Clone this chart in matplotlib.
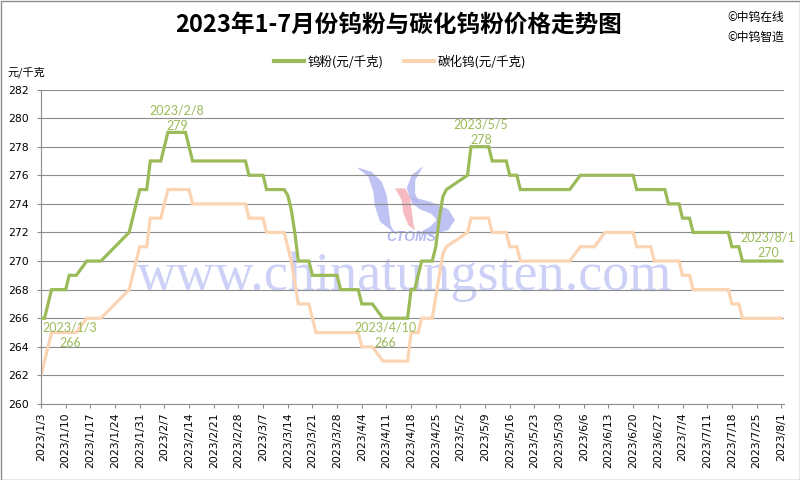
import matplotlib
matplotlib.use('Agg')
import matplotlib.pyplot as plt
from matplotlib.transforms import Affine2D
from matplotlib.patches import Polygon, Rectangle
from datetime import datetime, timedelta

# ---------------- data ----------------
title = '2023年1-7月份钨粉与碳化钨粉价格走势图'
series_w_name = '钨粉(元/千克)'
series_wc_name = '碳化钨(元/千克)'
y_unit = '元/千克'
copyright_lines = ['©中钨在线', '©中钨智造']
watermark = 'www.chinatungsten.com'
logo_text = 'CTOMS'

# tungsten powder (vertices of the price line)
w_dates = ['2023/1/3', '2023/1/4', '2023/1/6', '2023/1/10', '2023/1/11', '2023/1/13',
           '2023/1/16', '2023/1/20', '2023/1/28', '2023/1/31', '2023/2/2', '2023/2/3',
           '2023/2/6', '2023/2/8', '2023/2/13', '2023/2/15', '2023/3/2', '2023/3/3',
           '2023/3/7', '2023/3/8', '2023/3/13', '2023/3/14', '2023/3/15', '2023/3/16',
           '2023/3/17', '2023/3/20', '2023/3/21', '2023/3/28', '2023/3/29', '2023/4/3',
           '2023/4/4', '2023/4/7', '2023/4/10', '2023/4/17', '2023/4/18', '2023/4/19',
           '2023/4/21', '2023/4/24', '2023/4/25', '2023/4/26', '2023/4/27', '2023/4/28',
           '2023/5/4', '2023/5/5', '2023/5/10', '2023/5/11', '2023/5/15', '2023/5/16',
           '2023/5/18', '2023/5/19', '2023/6/2', '2023/6/5', '2023/6/20', '2023/6/21',
           '2023/6/29', '2023/6/30', '2023/7/3', '2023/7/4', '2023/7/6', '2023/7/7',
           '2023/7/17', '2023/7/18', '2023/7/20', '2023/7/21', '2023/8/1']
w_values = [266, 266, 268, 268, 269, 269,
            270, 270, 272, 275, 275, 277,
            277, 279, 279, 277, 277, 276,
            276, 275, 275, 274.6, 273.6, 272,
            270, 270, 269, 269, 268, 268,
            267, 267, 266, 266, 268, 268,
            270, 270, 271, 273, 274.5, 275,
            276, 278, 278, 277, 277, 276,
            276, 275, 275, 276, 276, 275,
            275, 274, 274, 273, 273, 272,
            272, 271, 271, 270, 270]

# tungsten carbide (vertices of the price line)
wc_dates = ['2023/1/3', '2023/1/6', '2023/1/13', '2023/1/16', '2023/1/20', '2023/1/28',
            '2023/1/31', '2023/2/2', '2023/2/3', '2023/2/6', '2023/2/8', '2023/2/14',
            '2023/2/15', '2023/3/2', '2023/3/3', '2023/3/7', '2023/3/8', '2023/3/13',
            '2023/3/14', '2023/3/15', '2023/3/16', '2023/3/17', '2023/3/20', '2023/3/22',
            '2023/4/3', '2023/4/4', '2023/4/7', '2023/4/10', '2023/4/17', '2023/4/18',
            '2023/4/20', '2023/4/21', '2023/4/24', '2023/4/27', '2023/4/28', '2023/5/4',
            '2023/5/5', '2023/5/10', '2023/5/11', '2023/5/15', '2023/5/16', '2023/5/18',
            '2023/5/19', '2023/6/2', '2023/6/5', '2023/6/9', '2023/6/12', '2023/6/20',
            '2023/6/21', '2023/6/25', '2023/6/26', '2023/7/3', '2023/7/4', '2023/7/6',
            '2023/7/7', '2023/7/17', '2023/7/18', '2023/7/20', '2023/7/21', '2023/8/1']
wc_values = [262, 265, 265, 266, 266, 268,
             271, 271, 273, 273, 275, 275,
             274, 274, 273, 273, 272, 272,
             271, 270, 268.5, 267, 267, 265,
             265, 264, 264, 263, 263, 265,
             265, 266, 266, 270.5, 271, 272,
             273, 273, 272, 272, 271, 271,
             270, 270, 271, 271, 272, 272,
             271, 271, 270, 270, 269, 269,
             268, 268, 267, 267, 266, 266]

# labelled points on the tungsten powder line
label_dates = ['2023/1/3', '2023/2/8', '2023/4/10', '2023/5/5', '2023/8/1']

tick_labels = ['2023/1/3', '2023/1/10', '2023/1/17', '2023/1/24', '2023/1/31', '2023/2/7',
               '2023/2/14', '2023/2/21', '2023/2/28', '2023/3/7', '2023/3/14', '2023/3/21',
               '2023/3/28', '2023/4/4', '2023/4/11', '2023/4/18', '2023/4/25', '2023/5/2',
               '2023/5/9', '2023/5/16', '2023/5/23', '2023/5/30', '2023/6/6', '2023/6/13',
               '2023/6/20', '2023/6/27', '2023/7/4', '2023/7/11', '2023/7/18', '2023/7/25',
               '2023/8/1']
y_ticks = [260, 262, 264, 266, 268, 270, 272, 274, 276, 278, 280, 282]

# ---------------- style ----------------
GREEN = '#9BBB59'
ORANGE = '#FBD4B4'
GRID = '#8C8C8C'
LOGO_BLUE = '#B3B9F1'
LOGO_RED = '#F4B0B5'
CJK = ['Noto Sans CJK SC', 'DejaVu Sans']


def to_dt(s):
    return datetime.strptime(s, '%Y/%m/%d')


W, H = 800, 480
fig = plt.figure(figsize=(8, 4.8), dpi=100)
fig.patch.set_facecolor('white')
px = Affine2D().scale(1 / 100, -1 / 100).translate(0, H / 100) + fig.dpi_scale_trans

ax = fig.add_axes([41 / W, 1 - 404 / H, (784 - 41) / W, (404 - 89.5) / H])
ax.set_facecolor('none')

wd = [to_dt(s) for s in w_dates]
cd = [to_dt(s) for s in wc_dates]
ax.plot(wd, w_values, color=GREEN, lw=2.3, zorder=3, solid_joinstyle='miter',
        label=series_w_name)
ax.plot(cd, wc_values, color=ORANGE, lw=2.3, zorder=2.5, solid_joinstyle='miter',
        label=series_wc_name)

ax.set_ylim(260, 282)
ax.set_yticks(y_ticks)
ax.set_xlim(to_dt('2023/1/3'), to_dt('2023/8/1') + timedelta(hours=19))
tick_dt = [to_dt(s) for s in tick_labels]
ax.set_xticks(tick_dt)
ax.set_xticklabels(tick_labels, rotation=90, fontsize=7.8, family='DejaVu Sans')
for t in ax.get_yticklabels():
    t.set_fontsize(7.8)
    t.set_family('DejaVu Sans')
ax.tick_params(axis='both', direction='out', length=3, width=0.8, color=GRID)
ax.tick_params(axis='y', pad=6)
ax.tick_params(axis='x', pad=3)

ax.grid(axis='y', color=GRID, lw=0.8)
ax.set_axisbelow(True)
for s in ['top', 'right']:
    ax.spines[s].set_visible(False)
for s in ['left', 'bottom']:
    ax.spines[s].set_color(GRID)
    ax.spines[s].set_linewidth(0.8)

# data labels
offsets = {'2023/1/3': ((29, -9), (29.5, -25)),
           '2023/2/8': ((9, 21.6), (9, 6.6)),
           '2023/4/10': ((3, -9), (2.5, -25)),
           '2023/5/5': ((10, 22.3), (10, 6.6)),
           '2023/8/1': ((-13, 23.7), (-13, 7.7))}
for ds in label_dates:
    d = to_dt(ds)
    v = w_values[w_dates.index(ds)]
    o1, o2 = offsets[ds]
    ax.annotate(ds, (d, v), xytext=o1, textcoords='offset pixels', ha='center',
                va='center', color=GREEN, fontsize=9, family='Lato', zorder=4)
    ax.annotate(f'{v:g}', (d, v), xytext=o2, textcoords='offset pixels', ha='center',
                va='center', color=GREEN, fontsize=9, family='Lato', zorder=4)

# watermark text
ax.text(137, 290, watermark, transform=px, fontsize=39, family='Liberation Serif',
        color='#CDD1F7', ha='left', va='baseline', zorder=0.1, clip_on=False)


# logo (decorative)
def shape(pts, color):
    verts = [(340 + x / 3, 160 + y / 3) for x, y in pts]
    ax.add_patch(Polygon(verts, closed=True, transform=px, facecolor=color,
                         edgecolor='none', alpha=0.85, zorder=0.1, clip_on=False))


# left flame
shape([(50, 22), (85, 50), (100, 95), (105, 140), (120, 185), (165, 220),
       (152, 195), (146, 150), (140, 105), (125, 65), (95, 35)], LOGO_BLUE)
# right "S": upper arm
shape([(250, 18), (215, 45), (200, 85), (212, 118), (240, 132),
       (225, 100), (226, 60)], LOGO_BLUE)
# right "S": body
shape([(212, 110), (270, 125), (325, 148), (345, 180), (325, 210), (275, 225),
       (232, 222), (270, 200), (290, 180), (275, 162), (240, 148), (215, 130)], LOGO_BLUE)
# red flame
shape([(165, 85), (195, 85), (210, 110), (215, 150), (220, 190), (225, 212),
       (205, 195), (190, 160), (185, 120)], LOGO_RED)
ax.text(411, 237, logo_text, transform=px, fontsize=10, fontweight='bold', fontstyle='italic',
        color=LOGO_BLUE, ha='center', va='center', zorder=0.1, family='Liberation Sans')

# titles and texts
fig.text(399 / W, 1 - 25 / H, title, ha='center', va='center', fontsize=17,
         fontweight='bold', family=CJK)
fig.text(727 / W, 1 - 17 / H, copyright_lines[0], ha='left', va='center', fontsize=8.5, family=CJK)
fig.text(727 / W, 1 - 37 / H, copyright_lines[1], ha='left', va='center', fontsize=8.5, family=CJK)
fig.text(8 / W, 1 - 72 / H, y_unit, ha='left', va='center', fontsize=8, family=CJK)

leg = fig.legend(loc='center', bbox_to_anchor=(400 / W, 1 - 62 / H), ncol=2, frameon=False,
                 handlelength=2.4, handletextpad=0.3, columnspacing=1.6,
                 prop={'family': CJK, 'size': 9})
for h in leg.get_lines():
    h.set_linewidth(3)

fig.add_artist(Rectangle((0.5 / W, 0.5 / H), 1 - 1 / W, 1 - 1 / H, transform=fig.transFigure,
                         fill=False, edgecolor='#8C8C8C', lw=1))

fig.savefig('out.png', dpi=100)
